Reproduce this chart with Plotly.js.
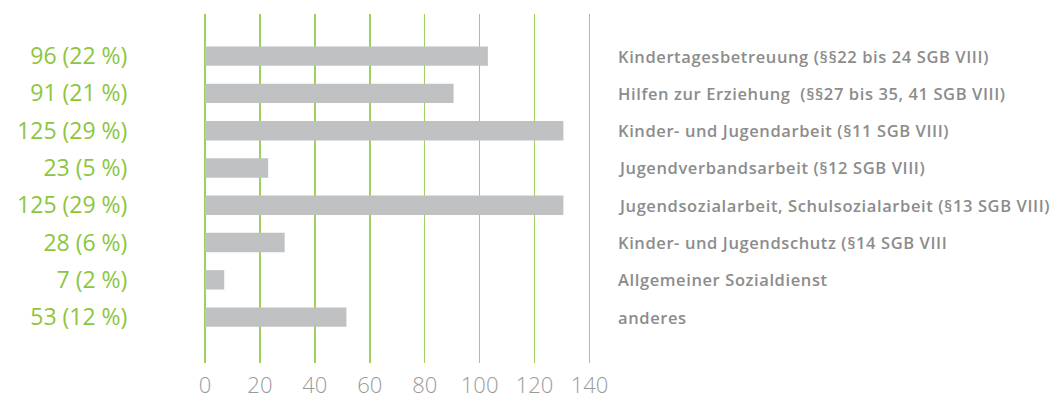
<!DOCTYPE html>
<html>
<head>
<meta charset="utf-8">
<script src="https://cdn.plot.ly/plotly-3.0.1.min.js"></script>
<style>
html,body{margin:0;padding:0;background:#fff;}
#chart{width:1064px;height:402px;}
.annotation-text{letter-spacing:0.6px;}
</style>
</head>
<body>
<div id="chart"></div>
<script>
// Categories (top to bottom)
const categories = [
  "Kindertagesbetreuung (§§22 bis 24 SGB VIII)",
  "Hilfen zur Erziehung  (§§27 bis 35, 41 SGB VIII)",
  "Kinder- und Jugendarbeit (§11 SGB VIII)",
  "Jugendverbandsarbeit (§12 SGB VIII)",
  "Jugendsozialarbeit, Schulsozialarbeit (§13 SGB VIII)",
  "Kinder- und Jugendschutz (§14 SGB VIII",
  "Allgemeiner Sozialdienst",
  "anderes"
];
// Bar lengths as drawn in the picture
const barValues = [103, 90.5, 130.5, 23, 130.5, 29, 7, 51.5];
// Label texts shown at left
const counts = [96, 91, 125, 23, 125, 28, 7, 53];
const percents = [22, 21, 29, 5, 29, 6, 2, 12];
const xTicks = [0, 20, 40, 60, 80, 100, 120, 140];

const idx = categories.map((_, i) => i);
const leftLabels = counts.map((c, i) => c + " (" + percents[i] + " %)");

const trace = {
  type: "bar",
  orientation: "h",
  x: barValues,
  y: idx,
  width: 0.52,
  marker: {color: "#c0c1c3"},
  hoverinfo: "skip"
};

// plot area spans 0..142 at 2.75 px per unit => 390.5 px wide
const plotW = 390.5;
const annotations = categories.map((c, i) => ({
  xref: "paper", yref: "y",
  x: (617 - 205) / plotW, y: i,
  xanchor: "left", yanchor: "middle",
  text: c, showarrow: false,
  font: {family: "Open Sans", size: 16.5, color: "#8c8c8c", weight: 600}
}));

const layout = {
  width: 1064, height: 402,
  margin: {l: 205, r: 1064 - 205 - plotW, t: 14, b: 39, pad: 0},
  paper_bgcolor: "#fff", plot_bgcolor: "#fff",
  showlegend: false,
  xaxis: {
    range: [0, 142],
    tickvals: xTicks,
    ticktext: xTicks.map(String),
    showgrid: true, gridcolor: "#9dd15e", gridwidth: 1.5,
    zeroline: true, zerolinecolor: "#9dd15e", zerolinewidth: 1.5,
    showline: false,
    ticks: "outside", ticklen: 3, tickcolor: "rgba(0,0,0,0)",
    tickfont: {family: "Open Sans", size: 22, color: "#9a9a9a", weight: 300},
    fixedrange: true
  },
  yaxis: {
    range: [8.23, -1.13],
    tickvals: idx,
    ticktext: leftLabels,
    showgrid: false, zeroline: false, showline: false,
    ticks: "outside", ticklen: 72, tickcolor: "rgba(0,0,0,0)",
    tickfont: {family: "Open Sans", size: 23, color: "#8cc63f", weight: 400},
    fixedrange: true
  },
  annotations: annotations
};

Plotly.newPlot("chart", [trace], layout, {displayModeBar: false, staticPlot: true});
</script>
</body>
</html>
